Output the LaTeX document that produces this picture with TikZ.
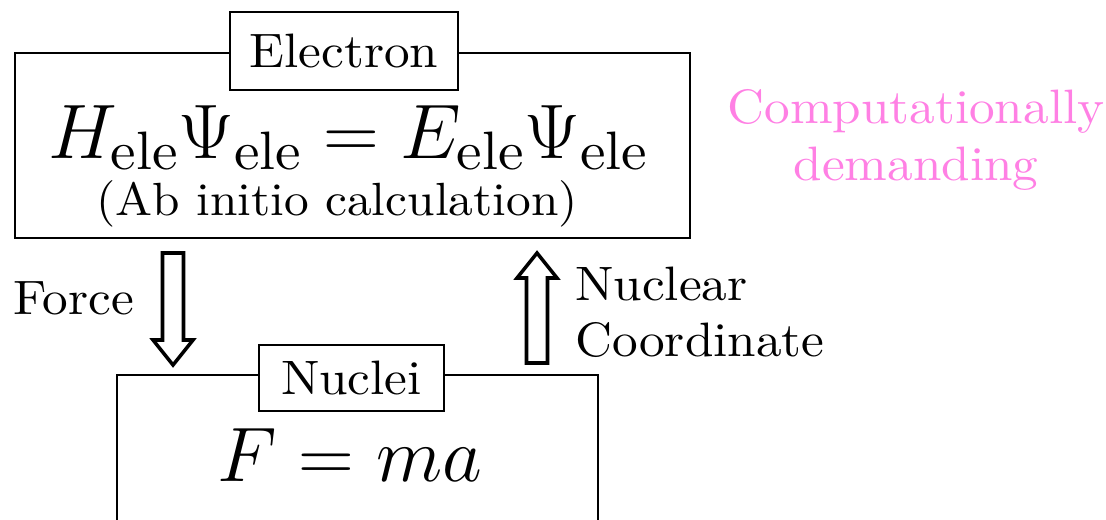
\RequirePackage{fix-cm}
\documentclass[tikz,border=0pt]{standalone}
\usepackage{amsmath}
\usepackage{fontspec}
\setmainfont{lmroman10-regular}[Extension=.otf, FakeStretch=1.06]
\usepackage{tikz}
\usetikzlibrary{positioning}

\definecolor{demandpink}{RGB}{255,128,228}

\begin{document}
\begin{tikzpicture}[
  x=0.02cm, y=-0.02cm,
  every node/.style = {font=\fontsize{27.5}{32}\selectfont, inner sep=0pt},
  bigbox/.style   = {rectangle, draw, line width=1.1pt, fill=white},
  tagbox/.style   = {rectangle, draw, line width=1.1pt, fill=white},
  eqn/.style      = {font=\fontsize{44}{48}\selectfont},
  sidetext/.style = {align=left, anchor=west},
  blockarr/.style = {draw, line width=2pt, line join=miter, fill=white},
]
\useasboundingbox (0,0) rectangle (1106,520);
\clip (0,0) rectangle (1106,520);

%% == Electron part ==
\node[bigbox, minimum width=13.5cm, minimum height=3.7cm] at (352.5,145.5) (elebox) {};
\node[tagbox, minimum width=4.56cm, minimum height=1.56cm] at (344,51) (eletag) {Electron};
\node[eqn] at (348,138) (schr)
  {$H_{\text{ele}}\Psi_{\text{ele}} = E_{\text{ele}}\Psi_{\text{ele}}$};
\node[font=\fontsize{26.5}{30}\selectfont] at (337,204) (abinit) {(Ab initio calculation)};

%% == Nuclei part ==
\node[bigbox, minimum width=9.62cm, minimum height=3.7cm] at (357.5,467.5) (nucbox) {};
\node[tagbox, minimum width=3.7cm, minimum height=1.32cm] at (351.5,378) (nuctag) {Nuclei};
\node[eqn] at (350,455) (newton) {$F = ma$};

%% == hollow arrows ==
\coordinate (ftail) at (173,253);
\coordinate (ctail) at (537,363);
\draw[blockarr] (ftail) ++(-10.5,0) -- ++(21,0) -- ++(0,87) -- ++(9.5,0)
  -- ++(-20,25) -- ++(-20,-25) -- ++(9.5,0) -- cycle;
\draw[blockarr] (ctail) ++(-10.5,0) -- ++(21,0) -- ++(0,-85) -- ++(9.5,0)
  -- ++(-20,-25) -- ++(-20,25) -- ++(9.5,0) -- cycle;

%% == labels ==
\node[sidetext] at (13,298) (force) {Force};
\node[sidetext] at (575,312) (nuccoord) {Nuclear\\Coordinate};
\node[align=center, text=demandpink] at (916,140) (demand)
  {Computationally\\demanding};

\end{tikzpicture}
\end{document}
